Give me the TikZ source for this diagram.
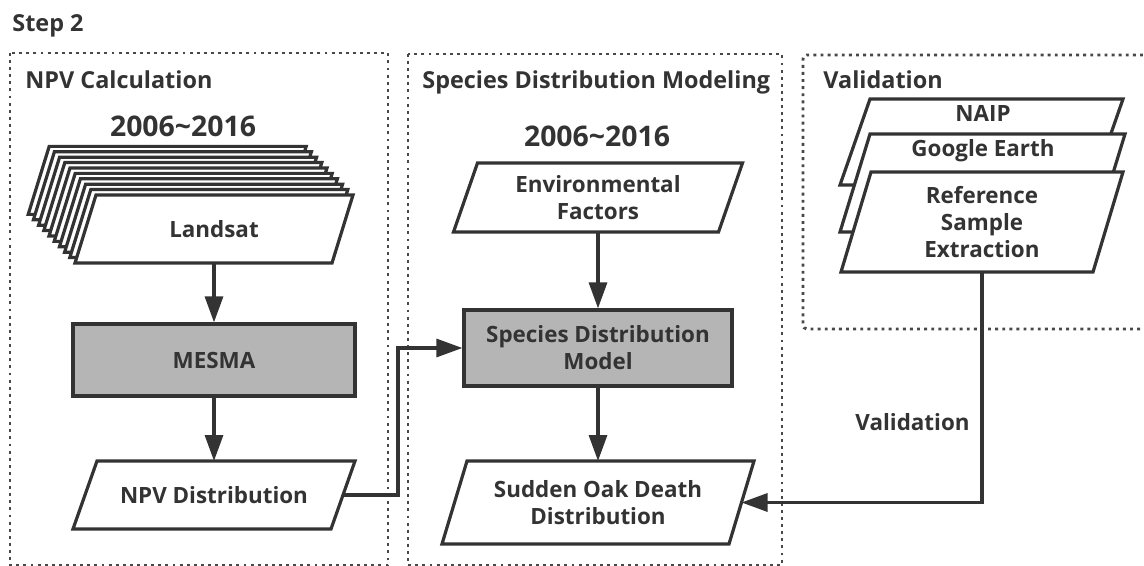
\documentclass[tikz,border=0pt]{standalone}
\usepackage{fontspec}
\setmainfont{Open Sans}
\usetikzlibrary{arrows.meta}
\definecolor{inkgray}{HTML}{333333}
\definecolor{dotgray}{HTML}{484848}
\definecolor{procfill}{HTML}{B5B5B5}

\tikzset{
  boxline/.style={draw=inkgray, line width=1.6pt, line join=miter},
  boxtext/.style={font=\fontsize{11.2}{13.5}\selectfont\bfseries, text=inkgray, align=center, inner sep=0pt},
  procbox/.style={boxline, fill=procfill, font=\fontsize{11.2}{13.5}\selectfont\bfseries, text=inkgray, align=center},
  panel/.style={draw=dotgray, line width=1.45pt, dash pattern=on 1.45pt off 2.1pt},
  paneltitle/.style={font=\fontsize{11.7}{14}\selectfont\bfseries, text=inkgray, anchor=base west, inner sep=0pt},
  yeartext/.style={font=\fontsize{14.2}{16}\selectfont\bfseries, text=inkgray, anchor=base, inner sep=0pt},
  flow/.style={draw=inkgray, line width=1.6pt, -{Triangle[length=13pt,width=9pt]}},
}

% parallelogram data box: name, centre, half width, half height, half slant
\newcommand{\slantbox}[5]{%
  \begin{scope}[shift={#2}]
    \draw[boxline, fill=white] (-#3+#5,-#4) -- (#3+#5,-#4) -- (#3-#5,#4) -- (-#3-#5,#4) -- cycle;
    \coordinate (#1-c) at (0,0);
    \coordinate (#1-n) at (0,-#4);
    \coordinate (#1-s) at (0,#4);
    \coordinate (#1-e) at (#3,0);
  \end{scope}}

\begin{document}
\begin{tikzpicture}[x=0.5pt, y=-0.5pt]
\useasboundingbox (0,0) rectangle (1144,566);

\node[paneltitle] (step) at (12,32) {Step 2};

% Panel 1: NPV calculation
\draw[panel] (10,53) rectangle (388,565);
\node[paneltitle] (npvtitle) at (25,89) {NPV Calculation};
\node[yeartext] (year1) at (183,137) {2006\textasciitilde 2016};
% stacked Landsat scenes
\foreach \i in {9,...,1}
  \slantbox{layer\i}{(214-5.2*\i,229-5.4*\i)}{128.5}{34}{10.5};
\slantbox{landsat}{(214,229)}{128.5}{34}{10.5}
\node[boxtext] (landsat) at (landsat-c) {Landsat};
\node[procbox, minimum width=141pt, minimum height=36pt] (mesma) at (214,360) {MESMA};
\slantbox{npv}{(214,495)}{129}{34}{12}
\node[boxtext] (npvdist) at (npv-c) {NPV Distribution};

% Panel 2: species distribution modeling
\draw[panel] (408,54) rectangle (782,565);
\node[paneltitle] (sdmtitle) at (422,89) {Species Distribution Modeling};
\node[yeartext] (year2) at (597,147) {2006\textasciitilde 2016};
\slantbox{env}{(598,197.5)}{132.5}{34.5}{12}
\node[boxtext] (envfac) at (env-c) {Environmental\\Factors};
\node[procbox, minimum width=134pt, minimum height=38pt] (sdm) at (598,348) {Species Distribution\\Model};
\slantbox{sod}{(598,502.5)}{143.5}{41.5}{12.5}
\node[boxtext] (soddist) at (sod-c) {Sudden Oak Death\\Distribution};

% Panel 3: validation
\draw[panel, rounded corners=2pt] (1150,55) -- (803,55) -- (803,329) -- (1150,329);
\node[paneltitle] (valtitle) at (823,89) {Validation};
\slantbox{naip}{(981.5,142)}{126.5}{43}{15}
\node[boxtext, anchor=base] (naiptxt) at (983,122) {NAIP};
\slantbox{ge}{(982.5,183)}{127.5}{49}{15}
\node[boxtext, anchor=base] (getxt) at (983,157) {Google Earth};
\slantbox{ref}{(982,222)}{126}{50}{15}
\node[boxtext] (reftxt) at (ref-c) {Reference\\Sample\\Extraction};

% Arrows
\draw[flow] (landsat-s) -- (mesma);
\draw[flow] (mesma) -- (npv-n);
\draw[flow] (npv-e) -- ++(55,0) |- (sdm.west);
\draw[flow] (env-s) -- (sdm);
\draw[flow] (sdm) -- (sod-n);
\draw[flow] (ref-s) |- (sod-e);
\node[boxtext, anchor=base east] (vallabel) at (970,430) {Validation};

\end{tikzpicture}
\end{document}
